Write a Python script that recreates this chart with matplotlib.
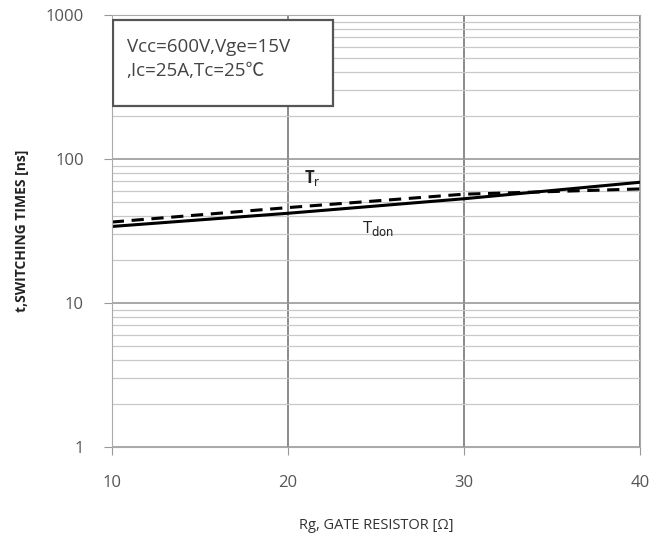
import matplotlib
matplotlib.use('Agg')
import matplotlib.pyplot as plt
from matplotlib.patches import Rectangle
from matplotlib.ticker import LogLocator, FixedLocator, NullFormatter

# gate resistance [ohm]
rg = [10, 20, 30, 40]
# switching times [ns]
t_don = [34, 42, 53, 69]
t_r = [36.5, 46, 57, 62]

plt.rcParams['font.family'] = ['Open Sans', 'DejaVu Sans']

fig = plt.figure(figsize=(6.5, 5.41), dpi=100)
ax = fig.add_axes([0.172, 0.174, 0.813, 0.798])

ax.plot(rg, t_don, color='black', lw=2.2, solid_capstyle='butt')
ax.plot(rg, t_r, color='black', lw=2.2, ls=(0, (4, 2.5)))

ax.set_yscale('log')
ax.set_xlim(10, 40)
ax.set_ylim(1, 1000)
ax.xaxis.set_major_locator(FixedLocator([10, 20, 30, 40]))
ax.yaxis.set_major_locator(FixedLocator([1, 10, 100, 1000]))
ax.yaxis.set_major_formatter(plt.FuncFormatter(lambda v, p: f'{v:g}'))
ax.yaxis.set_minor_locator(LogLocator(base=10, subs=range(2, 10)))
ax.yaxis.set_minor_formatter(NullFormatter())

ax.grid(which='major', axis='x', color='#777777', lw=1.2)
ax.grid(which='major', axis='y', color='#999999', lw=1.2)
ax.grid(which='minor', axis='y', color='#c8c8c8', lw=0.9)
for s in ax.spines.values():
    s.set_color('#aaaaaa')
ax.tick_params(axis='both', which='major', colors='#999999', labelcolor='#555555',
               labelsize=12, length=6, pad=14)
ax.tick_params(axis='y', which='minor', length=0)

ax.set_xlabel('Rg, GATE RESISTOR [Ω]', fontsize=10.5, color='#333333', labelpad=20)
ax.set_ylabel('t,SWITCHING TIMES [ns]', fontsize=10, color='#222222',
              fontweight='bold', labelpad=12)

# condition box
ax.add_patch(Rectangle((0.003, 0.789), 0.416, 0.199, transform=ax.transAxes,
                       fc='white', ec='#555555', lw=1.6, zorder=5))
ax.text(0.028, 0.898, 'Vcc=600V,Vge=15V\n,Ic=25A,Tc=25℃', transform=ax.transAxes,
        fontsize=13.5, color='#444444', va='center', ha='left', linespacing=1.45,
        family=['Open Sans', 'Noto Sans CJK SC', 'DejaVu Sans'], zorder=6)

ax.text(20.9, 68, r'T$_\mathrm{r}$', fontsize=12, fontweight='bold', color='#222222')
ax.text(24.2, 30.5, r'T$_\mathrm{don}$', fontsize=12, color='#222222')

fig.savefig('out.png', dpi=100)
